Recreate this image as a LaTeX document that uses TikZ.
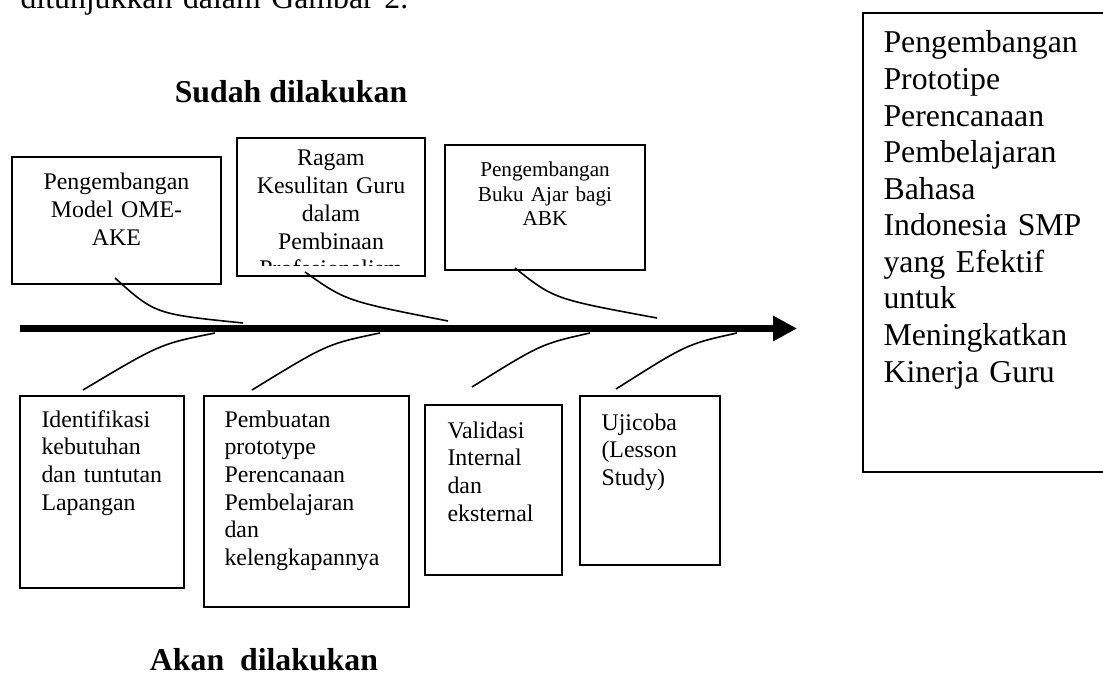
\documentclass[tikz,border=0pt]{standalone}
\usepackage{fontspec}
\setmainfont{Liberation Serif}
\usetikzlibrary{arrows.meta,fit}
\tikzset{bx/.style={draw,line width=.75pt,inner sep=0pt},
 lt/.style={anchor=base west,inner sep=0pt,align=left,text width=80mm},
 ct/.style={anchor=base,inner sep=0pt,align=center,text width=80mm},
 f8/.style={font=\fontsize{8}{9.1}\selectfont},
 f9/.style={font=\fontsize{9}{10.45}\selectfont},
 f12/.style={font=\fontsize{12}{13.8}\selectfont},
 hd/.style={anchor=base,inner sep=0pt,font=\fontsize{12}{13.8}\selectfont\bfseries},
 bone/.style={line width=.6pt},
 spine/.style={line width=3pt,-{Triangle[length=9pt,width=9pt]}}}
\begin{document}
\begin{tikzpicture}[x=.3774pt,y=-.3774pt]
\useasboundingbox (0,0) rectangle (1103,682);
\node[lt,f12] (intro) at (20,9) {ditunjukkan dalam Gambar 2.};
\node[hd] (sudah) at (291,103) {Sudah dilakukan};
\node[hd] (akan) at (264,670) {Akan\ \ dilakukan};
% sudah dilakukan
\node[bx,fit={(12,157)(221,284)}] (u1) {};
\node[bx,fit={(237,138)(425,276)}] (u2) {};
\node[bx,fit={(445,145)(645,270)}] (u3) {};
\node[ct,f9] (u1t) at (116.5,190) {Pengembangan\\Model OME-\\AKE};
\begin{scope}
\clip (237,138) rectangle (425,266);
\node[ct,f9] (u2t) at (331,166) {Ragam\\Kesulitan Guru\\dalam\\Pembinaan\\Profesionalism};
\end{scope}
\node[ct,f8] (u3t) at (545,177) {Pengembangan\\Buku Ajar bagi\\ABK};
% akan dilakukan
\node[bx,fit={(20,396)(184,588)}] (l1) {};
\node[bx,fit={(204,396)(409,607)}] (l2) {};
\node[bx,fit={(425,405)(562,575)}] (l3) {};
\node[bx,fit={(580,396)(720,565)}] (l4) {};
\node[lt,f9] (l1t) at (41,427) {Identifikasi\\kebutuhan\\dan tuntutan\\Lapangan};
\node[lt,f9] (l2t) at (224,427) {Pembuatan\\prototype\\Perencanaan\\Pembelajaran\\dan\\kelengkapannya};
\node[lt,f9] (l3t) at (447,438) {Validasi\\Internal\\dan\\eksternal};
\node[lt,f9] (l4t) at (601,430) {Ujicoba\\(Lesson\\Study)};
% tujuan
\node[bx,fit={(863,13)(1125,472)}] (goal) {};
\node[lt,f12] (goalt) at (883,53) {Pengembangan\\Prototipe\\Perencanaan\\Pembelajaran\\Bahasa\\Indonesia SMP\\yang Efektif\\untuk\\Meningkatkan\\Kinerja Guru};
% tulang ikan
\coordinate (s0) at (20,328.5);\coordinate (s1) at (797,328.5);
\draw[spine] (s0)--(s1);
\foreach \sx/\sy/\cx/\cy/\ex/\ey [count=\i] in {115/278/155/314/243/323,305/272/346/301/448/321,
 515/268/554/299/657/318,83/390/160/344/215/333,252/390/327/344/380/333,
 472/387/541/344/590/333,616/389/687/344/737/333}{
 \coordinate (bs\i) at (\sx,\sy);\coordinate (be\i) at (\ex,\ey);
 \draw[bone] (bs\i) .. controls (\cx,\cy) .. (be\i);}
\end{tikzpicture}
\end{document}
